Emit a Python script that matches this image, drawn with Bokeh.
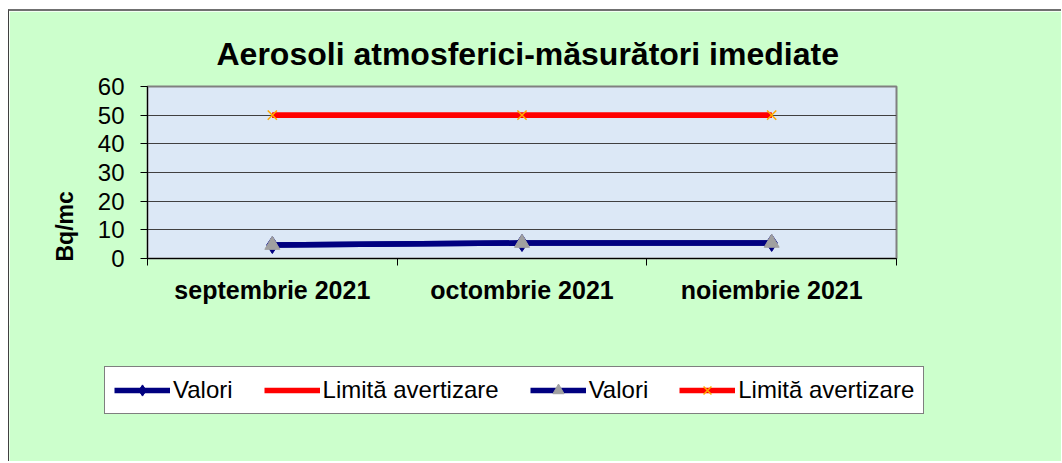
from bokeh.plotting import figure
from bokeh.models import Range1d, FixedTicker, Legend, LegendItem, Title
from bokeh.embed import file_html
from bokeh.resources import INLINE

# ---- data ----
months = ["septembrie 2021", "octombrie 2021", "noiembrie 2021"]
valori = [4.7, 5.4, 5.43]
limita = [50, 50, 50]
y_ticks = [0, 10, 20, 30, 40, 50, 60]
title_text = "Aerosoli atmosferici-măsurători imediate"
y_label = "Bq/mc"
legend_labels = ["Valori", "Limită avertizare", "Valori", "Limită avertizare"]

xs = [i + 0.5 for i in range(len(months))]
bounds = list(range(len(months) + 1))

GREEN = "#ccffcc"
NAVY = "#000080"
RED = "#ff0000"
ORANGE = "#ffaa00"
GREY = "#a0a0a0"
FONT = "Liberation Sans"


def add_series(fig, visible=True):
    r1 = fig.line(xs, valori, line_color=NAVY, line_width=5.5, visible=visible)
    m1 = fig.scatter(xs, valori, marker="diamond", size=17, fill_color=NAVY, line_color=NAVY, visible=visible)
    r2 = fig.line(xs, limita, line_color=RED, line_width=5.5, visible=visible)
    r3 = fig.line(xs, valori, line_color=NAVY, line_width=5.5, visible=visible)
    m3 = fig.scatter(xs, valori, marker="triangle", size=15, fill_color=GREY, line_color=GREY, visible=visible)
    r4 = fig.line(xs, limita, line_color=RED, line_width=5.5, visible=visible)
    m4 = fig.scatter(xs, limita, marker="x", size=13, line_color=ORANGE, line_width=1.5, visible=visible)
    return [[r1, m1], [r2], [r3, m3], [r4, m4]]


# ---------------- main chart ----------------
p = figure(width=1053, height=319, output_backend="svg", toolbar_location=None,
           x_range=Range1d(0, len(months)), y_range=Range1d(0, 60),
           min_border_left=138, min_border_right=166, min_border_top=75, min_border_bottom=72,
           background_fill_color="#dce8f6", border_fill_color=GREEN,
           outline_line_color="#808080", outline_line_width=2)
p.styles = {"margin-top": "9px", "margin-left": "8px",
            "border-top": "2px solid #707070", "border-left": "1px solid #404040"}

p.title.text = title_text
p.title.align = "left"
p.title.offset = 69
p.title.standoff = 30
p.title.text_font = FONT
p.title.text_font_size = "32px"
p.title.text_font_style = "bold"
p.title.text_color = "black"

p.xaxis.ticker = FixedTicker(ticks=xs, minor_ticks=bounds)
p.xaxis.major_label_overrides = {x: m for x, m in zip(xs, months)}
p.xaxis.major_tick_out = 0
p.xaxis.major_tick_in = 0
p.xaxis.minor_tick_out = 7
p.xaxis.minor_tick_in = 0
p.xaxis.minor_tick_line_color = "black"
p.xaxis.axis_line_color = "black"
p.xaxis.major_label_text_font = FONT
p.xaxis.major_label_text_font_style = "bold"
p.xaxis.major_label_text_font_size = "25px"
p.xaxis.major_label_text_color = "black"
p.xaxis.major_label_standoff = 10

p.yaxis.ticker = FixedTicker(ticks=y_ticks)
p.yaxis.major_tick_out = 7
p.yaxis.major_tick_in = 0
p.yaxis.minor_tick_line_color = None
p.yaxis.axis_line_color = "black"
p.yaxis.major_tick_line_color = "black"
p.yaxis.major_label_text_font = FONT
p.yaxis.major_label_text_font_size = "24px"
p.yaxis.major_label_text_color = "black"
p.yaxis.major_label_standoff = 16

p.xgrid.visible = False
p.ygrid.grid_line_color = "#404040"
p.ygrid.grid_line_width = 1

p.add_layout(Title(text=y_label, align="left", offset=-3, standoff=34,
                   text_font=FONT, text_font_size="23px", text_font_style="bold",
                   text_color="black"), "left")

add_series(p)

# ---------------- legend strip (separate root, no frame alignment) ----------------
q = figure(width=1053, height=136, output_backend="svg", toolbar_location=None,
           x_range=Range1d(0, len(months)), y_range=Range1d(0, 60),
           x_axis_type=None, y_axis_type=None, min_border=0,
           background_fill_color=GREEN, border_fill_color=GREEN, outline_line_color=None)
q.styles = {"margin-left": "8px", "margin-top": "-3px", "border-left": "1px solid #404040"}
q.grid.visible = False

groups = add_series(q, visible=False)
legend = Legend(items=[LegendItem(label=lab, renderers=g) for lab, g in zip(legend_labels, groups)],
                orientation="horizontal", location=(95, 47), glyph_width=56, glyph_height=28,
                label_standoff=3, spacing=31, padding=9, margin=0,
                label_text_font=FONT, label_text_font_size="24px", label_text_color="black",
                border_line_color="black", border_line_width=1,
                background_fill_color="white", background_fill_alpha=1.0,
                inactive_fill_alpha=0.0)
q.add_layout(legend)

open("out.html", "w").write(file_html([p, q], INLINE))
